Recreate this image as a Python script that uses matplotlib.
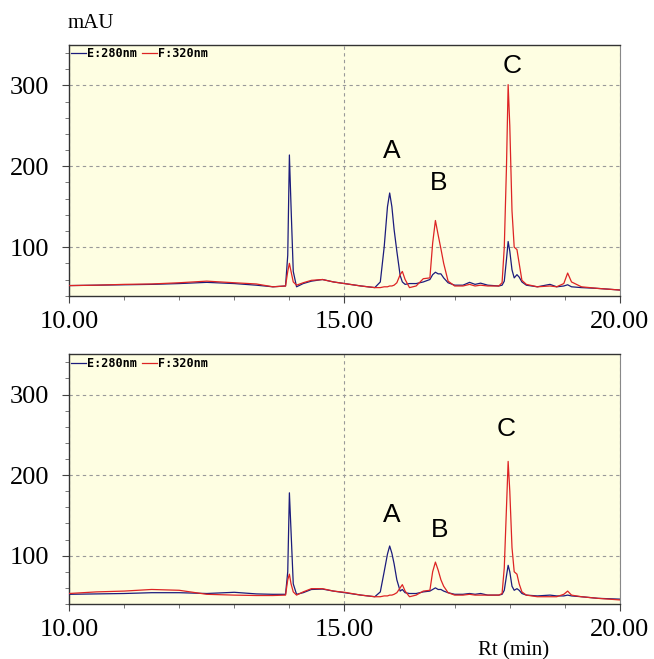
import numpy as np
import matplotlib
matplotlib.use("Agg")
import matplotlib.pyplot as plt
from matplotlib.ticker import MultipleLocator, FixedLocator

# ------------------------------------------------------------
# Datos leídos del cromatograma (tiempo de retención en min, señal en mAU)
# ------------------------------------------------------------
rt = [10.0, 10.5, 11.0, 11.5, 12.0, 12.5, 13.0, 13.4, 13.7, 13.93, 13.97, 14.0,
      14.03, 14.07, 14.13, 14.25, 14.4, 14.6, 14.8, 15.0, 15.3, 15.55, 15.65,
      15.72, 15.78, 15.82, 15.86, 15.9, 15.95, 16.01, 16.05, 16.1, 16.18, 16.3,
      16.43, 16.55, 16.6, 16.65, 16.7, 16.75, 16.8, 16.88, 17.0, 17.15, 17.27,
      17.37, 17.47, 17.6, 17.8, 17.86, 17.9, 17.94, 17.97, 18.0, 18.04, 18.08,
      18.13, 18.17, 18.22, 18.3, 18.5, 18.73, 18.85, 18.98, 19.05, 19.12, 19.3,
      19.6, 20.0]

top_280 = [52.5, 53, 53.5, 54, 55, 56.5, 55, 53, 51, 52, 90, 214,
           150, 70, 51, 55, 58, 60, 57, 55, 52, 50, 57,
           100, 150, 167, 150, 122, 95, 65, 57, 54, 55, 55,
           57, 60, 66, 69, 67, 67, 62, 56, 53, 53, 56.5,
           54, 55.5, 53, 52, 53, 58, 85, 107, 95, 72, 62,
           66, 63, 57, 53, 51, 54, 51, 52, 53.5, 51, 50,
           49, 47]

top_320 = [52.5, 53, 54, 54.5, 56, 58, 56, 54.5, 51, 52, 70, 80,
           70, 57, 53, 56, 59, 60, 57, 55, 52, 50, 50,
           51, 51, 52, 52, 53, 56, 66, 70, 60, 50, 52,
           61, 62, 105, 133, 115, 98, 80, 58, 52, 52, 54,
           52, 53, 52, 52, 56, 100, 200, 301, 250, 145, 100,
           97, 80, 59, 54, 51, 52, 51, 55, 68, 57, 51,
           49, 47]

bot_280 = [52, 52.5, 53, 54, 54, 53, 54.5, 52.5, 52, 52, 80, 178,
           130, 65, 52, 54, 58, 58.5, 56, 54, 51, 49, 55,
           80, 102, 112, 103, 90, 70, 56, 58, 54, 53, 53,
           55, 56, 58, 60, 58, 58, 56, 54, 52, 52, 53,
           52, 53, 51, 51, 52, 57, 75, 88, 80, 62, 57,
           59, 57, 53, 51, 50, 51, 50, 50, 51, 50, 49,
           47, 46]

bot_320 = [53, 55, 56, 58, 57, 52, 51, 50.5, 50.5, 51, 70, 77,
           65, 55, 51, 55, 59, 59, 56, 54.5, 51, 49, 49,
           50, 50, 51, 51, 52, 54, 60, 64, 56, 49, 51,
           56, 57, 80, 92, 82, 70, 62, 54, 51, 51, 52,
           51, 51, 51, 51, 53, 85, 160, 217, 180, 110, 80,
           77, 65, 55, 51, 49, 49, 49, 52, 56, 51, 49,
           47, 45]

peak_names = ["A", "B", "C"]
top_peak_x = [15.86, 16.70, 18.04]
top_peak_y = [210, 171, 316]
bot_peak_x = [15.86, 16.72, 17.94]
bot_peak_y = [142, 123, 248]

series_labels = ["E:280nm", "F:320nm"]
x_ticks = [10, 15, 20]
x_tick_labels = ["10.00", "15.00", "20.00"]
y_ticks = [100, 200, 300]

# ------------------------------------------------------------
# Figura
# ------------------------------------------------------------
plt.rcParams['font.family'] = ['Liberation Serif', 'DejaVu Serif']

fig = plt.figure(figsize=(6.54, 6.59), dpi=100)
ax_top = fig.add_axes([0.1055, 0.5513, 0.8425, 0.3804])
ax_bot = fig.add_axes([0.1055, 0.0835, 0.8425, 0.3789])

azul = "#1c1c7c"
rojo = "#dd2424"
fondo = "#fefee2"

paneles = [
    (ax_top, top_280, top_320, top_peak_x, top_peak_y),
    (ax_bot, bot_280, bot_320, bot_peak_x, bot_peak_y),
]

for ax, y280, y320, px, py in paneles:
    ax.set_facecolor(fondo)
    l1, = ax.plot(rt, y280, color=azul, lw=0.9, label=series_labels[0], zorder=3)
    l2, = ax.plot(rt, y320, color=rojo, lw=0.9, label=series_labels[1], zorder=4)

    ax.set_xlim(10, 20)
    ax.set_ylim(40, 350)

    ax.xaxis.set_major_locator(FixedLocator(x_ticks))
    ax.set_xticklabels(x_tick_labels)
    ax.xaxis.set_minor_locator(MultipleLocator(1))
    ax.yaxis.set_major_locator(FixedLocator(y_ticks))
    ax.yaxis.set_minor_locator(MultipleLocator(20))

    ax.tick_params(axis='both', which='major', direction='out', length=5,
                   width=0.8, color='#444444', labelsize=19)
    ax.tick_params(axis='x', which='major', pad=6)
    ax.tick_params(axis='y', which='major', pad=9)
    ax.tick_params(axis='both', which='minor', direction='out', length=3,
                   width=0.7, color='#777777')

    ax.grid(which='major', linestyle=(0, (3, 3)), color='#999999', linewidth=0.8)
    ax.set_axisbelow(True)

    for lado in ['left', 'bottom', 'top']:
        ax.spines[lado].set_color('#333333')
        ax.spines[lado].set_linewidth(1.0)
    ax.spines['right'].set_color('#888888')
    ax.spines['right'].set_linewidth(0.8)

    for nombre, x, y in zip(peak_names, px, py):
        ax.text(x, y, nombre, ha='center', va='baseline', fontsize=19,
                family='Liberation Sans', zorder=5)

    ax.legend(handles=[l1, l2], loc='upper left', bbox_to_anchor=(0.0, 1.0),
              ncol=2, frameon=False, handlelength=1.2, handletextpad=0.1,
              columnspacing=0.5, borderaxespad=0.1, borderpad=0.1,
              prop={'family': 'DejaVu Sans Mono', 'weight': 'bold', 'size': 8.5})

fig.text(68 / 654, 1 - 28 / 659, "mAU", fontsize=15, ha='left', va='baseline')
fig.text(514 / 654, 4 / 659, "Rt (min)", fontsize=15, ha='center', va='baseline')

fig.savefig("out.png", dpi=100)
